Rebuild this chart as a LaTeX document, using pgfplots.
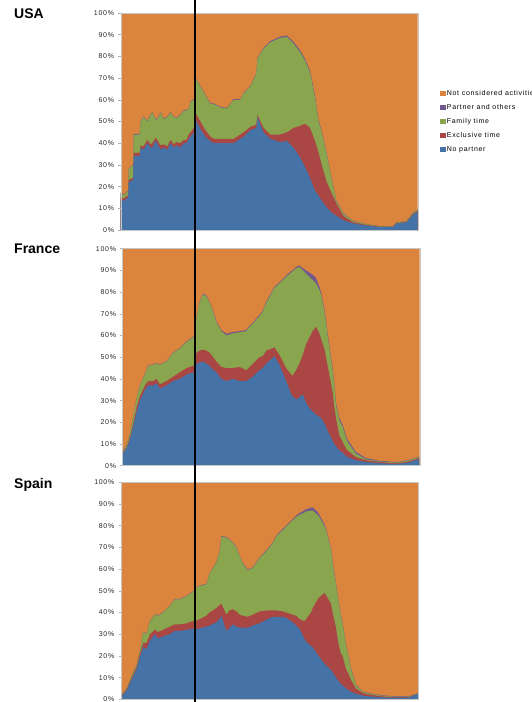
\documentclass[border=0pt]{standalone}
\usepackage{pgfplots}
\pgfplotsset{compat=1.18}
\usepackage{pgfplotstable}
\usepackage{fontspec}
\setmainfont{Liberation Sans}
\newfontfamily\tickfont[LetterSpace=10]{Liberation Sans}

\definecolor{cB}{HTML}{4572A7}
\definecolor{cR}{HTML}{AA4643}
\definecolor{cG}{HTML}{89A54E}
\definecolor{cP}{HTML}{71588F}
\definecolor{cO}{HTML}{DB843D}

% cumulative tops of the stacked areas: b = no partner, r = + exclusive,
% g = + family, p = + partner and others (rest up to 100 = not considered)
\pgfplotstableread{
x b r g p
0 14 15 17 17.3
3 13.5 14.5 16 16.3
7.5 15 16 18 18.3
8 22 23 28 28.3
12.5 23 24 30 30.3
13 34 35.5 44 44.3
19 34 35.5 44 44.3
20 38 39 50 50.3
23 37 38.5 52 52.3
26.7 40 41.5 50 50.3
30 38 39.5 53 53.3
31.7 38 40 54 54.3
35 41 42.5 51 51.3
36.7 40 41.5 51 51.3
40 37 39 54 54.3
43 38 39.5 51 51.3
46.7 37 38.5 52 52.3
50 40 41.5 54 54.3
53.3 38 39.5 52 52.3
56 39 40.5 51.5 51.8
60 38 40 53 53.3
63.3 40 41.5 55 55.3
66 40 41.5 55 55.3
68.3 42 44 56 56.3
70 43 45 59 59.3
73.3 45 47 60 60.3
74.5 46 47.5 60.5 60.8
75 51 54 70 70.3
80 46.5 50 66 66.3
85 43 46 62 62.3
90 41 43 58 58.3
93.3 40 42 58 58.3
100 40 42 56.5 56.8
106.7 40 42 56 56.3
113.3 40 42 60 60.3
120 42 44 60 60.3
123.3 43 45 63 63.3
130 46 47.5 66 66.3
136 47 48.5 72 72.3
137.3 52 53 79 79.3
143.3 45 47 83.5 83.9
150 42 44 86.5 87
160 40.5 44 88.5 89.1
166.7 41 45 89 89.6
173.3 38 47 86 86.8
180 33.5 48 82 82.8
185 29 49 78 78.8
190 24 47 72.5 73.3
195 18 41 61 61.8
198.3 16 36 50.5 51.2
201.7 13.5 30 45 45.5
206.7 10.5 22 35 35.5
211.7 8 17 23 23.4
216.7 6.5 12 13 13.3
223.3 4.5 6.5 7.5 7.8
233.3 3 3.5 4 4.2
246.7 2 2.3 2.6 2.7
260 1.3 1.5 1.7 1.8
273.3 1.3 1.5 1.7 1.8
276.7 3 3.2 3.5 3.6
286.7 3.5 3.7 4 4.1
293.3 7 7.5 8 8.1
298 8.5 9 9.5 9.6
}\usa

\pgfplotstableread{
x b r g p
0 5.5 6 6.5 6.7
4 8 8.5 9.5 9.7
7.3 12 13 15 15.2
10.6 18 19.5 23 23.2
14 25 27 31 31.2
17.3 30 32 37 37.2
22.3 35 37 42 42.2
25.6 37 39 46 46.2
30.6 37 39 46.5 46.7
34 38 40 47 47.2
37.3 35.5 37.5 46.5 46.7
44 37 39 48 48.2
50.6 39 41 52 52.2
57.3 40 43 54 54.2
64 42 45 57 57.3
70.6 43 46 59 59.3
72.3 43 46 60 60.3
74 47 52 68 68.3
77 47.5 53 75 75.3
80.6 48 53.5 79 79.4
84 47 53 78 78.4
87.3 46 52 75 75.4
89 45 51 73 73.4
94 43 48 66 66.5
99 40 45.5 62 62.5
104 39 45 60 60.8
110.6 40 45 61 61.6
117.3 39 45.5 61.5 62
124 39 44 62 62.5
127.3 40 45.5 64 64.5
130.6 41 47 65.5 66
137.3 44 50 69 69.5
140.6 45 50.5 71 71.5
144 47 53 75 75.5
152.3 50.5 54.5 82 82.5
157.3 46.5 51 84 84.5
164 39 45 87 87.6
169 33 42 89 89.6
170.6 32 41.5 89.5 90
174 30.5 44 91 91.6
177.3 31.5 47 91.5 92.2
180.6 33 51 90 91
184 29 56 88.5 90
187.3 26.5 59 87 89
190.6 25 62 85.5 88
194 23.5 64 84 86.5
197.3 22.5 61 81 82.5
199 22 58.5 79 80
202.3 19.5 54 71 72
204 18 50 66 67
205.6 16 46 60 61
209 13 38 49 50
210.6 11.5 34 44 45
212.3 10 27 37 38
214 9 22 28 29
217.3 7 14 21 22
220.6 6 11 18 19
224 4.5 8 13 14
225.6 4 7 11 12
234 2.5 4 5.5 6.3
244 1.7 2.5 3 3.5
257 1.2 1.7 2 2.3
264 1 1.5 1.8 2.1
274 0.7 1 1.4 1.6
287.3 1.5 2 2.5 2.7
297.3 3 3.5 4 4.2
}\france

\pgfplotstableread{
x b r g p
0 1 1.5 2 2.1
5.7 4 4.5 5 5.1
10.7 9 10 11 11.1
15.7 14 15 16 16.1
19 19.5 21 22.5 22.7
22.3 24 26 31 31.2
25.7 23 26 30 30.2
29 27 30 36 36.2
34 30 32 39 39.2
37.3 28 31 38.5 38.7
42.3 29 32 40 40.2
49 30 33.5 43 43.2
54 31.5 34.5 46 46.2
59 31.5 34.5 46 46.2
65.7 32 35 47.5 47.7
72.3 32.5 36 49.5 49.7
77.3 32.5 36.5 52 52.2
85.7 33.5 38.5 53 53.2
89 34 40 58 58.2
95.7 35.5 42 63 63.3
99 37 43.5 68 68.3
100.7 38.5 44 75 75.3
105.7 31.5 39 74.5 74.8
109 33 41 73.5 73.8
112.3 34.5 41.5 72 72.3
115.7 33.5 40.5 70 70.3
119 33 39 66 66.3
122.3 33 38.5 62.5 62.8
127.3 33 38 59.5 59.8
132.3 34 39 60.5 60.8
139 35 40.5 65 65.3
147.3 37 41 69 69.4
152.3 38 41 72 72.4
155.7 38 41 75 75.4
162.3 38 40.5 78 78.5
165.7 37.5 40 79.5 80
172.3 35.5 39 82.5 83
175.7 34 38.5 84 84.6
179 32.5 37 85 85.8
184 28 36 86 87
185.7 26.5 37 86.5 87.6
190.7 24.5 40 87 88.3
192.3 24 42 87 88.5
197.3 20.5 46 85 86.3
199 19.5 47 84 85
204 16.5 49 80 80.8
205.7 15.7 48 78 78.6
210.7 13.5 44 69 69.5
212.3 12.5 40 63 63.5
215.7 10 33 53 53.5
217.3 9 28 48 48.5
219 8 24 43 43.4
220.7 7 21 38.5 39
222.3 6.5 20 35 35.4
225.7 5 14 25 25.4
229 4 11 18 18.4
230.7 3.5 9 14 14.4
235.7 2.5 5 6.5 6.8
242.3 1.8 3 3.5 3.7
245.7 1.5 2.5 3 3.2
259 1 1.5 1.8 2
265.7 0.8 1.2 1.5 1.7
275.7 0.8 1 1.2 1.4
289 0.8 1.1 1.3 1.5
292.3 1.5 1.7 1.8 1.9
298 2.5 2.6 2.7 2.8
}\spain

\pgfplotsset{
  panel/.style={
    width=297pt, height=217pt, scale only axis,
    anchor=south west,
    xmin=0, xmax=298, ymin=0, ymax=100,
    xtick=\empty,
    ytick={0,10,...,100},
    yticklabels={0\%,10\%,20\%,30\%,40\%,50\%,60\%,70\%,80\%,90\%,100\%},
    ytick pos=left, tick align=outside, major tick length=2.5pt,
    tick style={gray!60, thin},
    axis line style={gray!45, thin},
    yticklabel style={font=\fontsize{7}{8}\selectfont\tickfont, text=black!85, inner sep=0pt, xshift=-4pt},
    axis on top,
  },
}

\newcommand{\stack}[1]{%
  \addplot[fill=cO, draw=none] coordinates {(0,100) (298,100)} \closedcycle;
  \addplot[fill=cP, draw=none] table[x=x, y=p] {#1} \closedcycle;
  \addplot[fill=cG, draw=none] table[x=x, y=g] {#1} \closedcycle;
  \addplot[fill=cR, draw=none] table[x=x, y=r] {#1} \closedcycle;
  \addplot[fill=cB, draw=none] table[x=x, y=b] {#1} \closedcycle;
}

\begin{document}
\begin{tikzpicture}
\useasboundingbox (0,0) rectangle (532pt,702pt);

\begin{axis}[panel, at={(120.7pt,472pt)},
  legend image code/.code={\fill[#1] (0pt,-2.8pt) rectangle (5.7pt,2.9pt);},
  legend style={at={(1.065,0.5)}, anchor=west, draw=none, fill=none,
    font=\fontsize{7}{8}\selectfont\tickfont, row sep=5.5pt,
    nodes={inner sep=1pt}},
  legend cell align=left,
  legend entries={Not considered activities, Partner and others, Family time, Exclusive time, No partner},
]
\stack{\usa}
\end{axis}

\begin{axis}[panel, at={(122.7pt,236.3pt)}]
\stack{\france}
\end{axis}

\begin{axis}[panel, at={(121pt,2.7pt)}]
\stack{\spain}
\end{axis}

\node[anchor=base west, inner sep=0pt, font=\fontsize{14}{16}\selectfont\bfseries] at (14pt,683.7pt) {USA};
\node[anchor=base west, inner sep=0pt, font=\fontsize{14}{16}\selectfont\bfseries] at (14pt,448.7pt) {France};
\node[anchor=base west, inner sep=0pt, font=\fontsize{14}{16}\selectfont\bfseries] at (14pt,213.7pt) {Spain};

\draw[line width=2pt, black] (195pt,0pt) -- (195pt,702pt);
\end{tikzpicture}
\end{document}
